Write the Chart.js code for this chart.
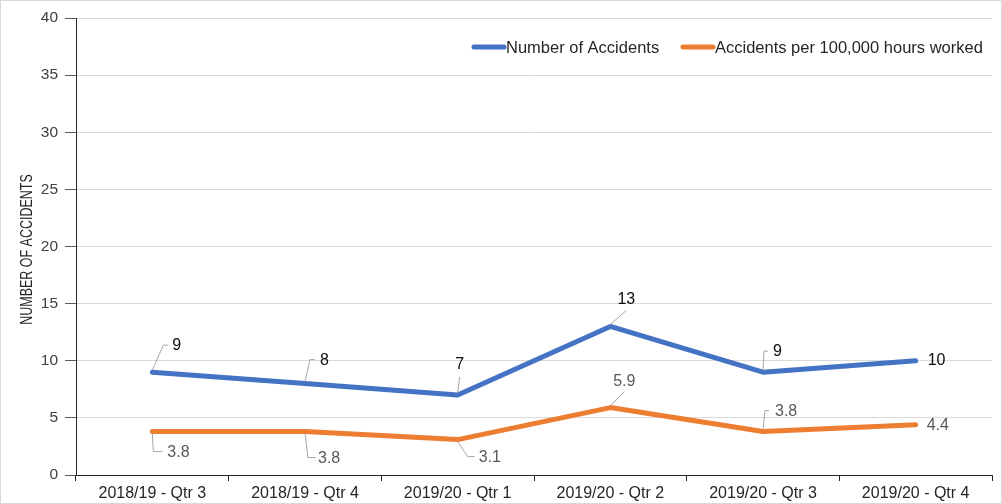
<!DOCTYPE html>
<html>
<head>
<meta charset="utf-8">
<script src="https://cdn.jsdelivr.net/npm/chart.js@4.4.0/dist/chart.umd.min.js"></script>
<style>
  html, body { margin: 0; padding: 0; background: #fff; }
  #wrap {
    position: absolute; left: 0; top: 0;
    width: 1002px; height: 504px;
    box-sizing: border-box;
    border: 1px solid #d9d9d9;
  }
  #wrap canvas { display: block; }
</style>
</head>
<body>
<div id="wrap"><canvas id="myChart" width="1000" height="502"></canvas></div>
<script>
// quarters along the bottom
const quarters = ["2018/19 - Qtr 3", "2018/19 - Qtr 4", "2019/20 - Qtr 1", "2019/20 - Qtr 2", "2019/20 - Qtr 3", "2019/20 - Qtr 4"]
const accidents = [9, 8, 7, 13, 9, 10]
const ratePer100k = [3.8, 3.8, 3.1, 5.9, 3.8, 4.4]
const seriesNames = ["Number of Accidents", "Accidents per 100,000 hours worked"]
const yTicks = [0, 5, 10, 15, 20, 25, 30, 35, 40]
const yTitle = "NUMBER OF ACCIDENTS"

const BLUE = "#4472C4"
const ORANGE = "#ED7D31"
const FONT = "'Liberation Sans', Arial, sans-serif"

// where each value label sits relative to its point, plus the little leader line
const labelSpots = [
    [
        { dx: 20, dy: -27, align: "left", leader: [[0, -2], [11, -27], [16, -27]] },
        { dx: 15, dy: -23, align: "left", leader: [[0, -2], [5, -24], [10, -24]] },
        { dx: 2, dy: -30, align: "center", leader: [[0, -2], [2, -18]] },
        { dx: 16, dy: -27, align: "center", leader: [[0, -2], [16, -16]] },
        { dx: 10, dy: -21, align: "left", leader: [[0, -2], [1, -21], [5, -21]] },
        { dx: 12, dy: 0, align: "left", leader: null },
    ],
    [
        { dx: 15, dy: 21, align: "left", leader: [[0, 2], [1, 20], [10, 20]] },
        { dx: 13, dy: 27, align: "left", leader: [[0, 2], [3, 26], [11, 26]] },
        { dx: 21, dy: 18, align: "left", leader: [[0, 2], [10, 17], [17, 17]] },
        { dx: 14, dy: -26, align: "center", leader: [[0, -2], [14, -16]] },
        { dx: 12, dy: -20, align: "left", leader: [[0, -2], [2, -21], [6, -21]] },
        { dx: 11, dy: 1, align: "left", leader: null },
    ],
]
const labelColors = ["#0d0d0d", "#595959"]

const valueLabels = {
    id: "valueLabels",
    afterDatasetsDraw(chart) {
        const ctx = chart.ctx
        ctx.save()
        ctx.font = "16px " + FONT
        ctx.textBaseline = "middle"
        chart.data.datasets.forEach((ds, di) => {
            const meta = chart.getDatasetMeta(di)
            meta.data.forEach((pt, i) => {
                const spot = labelSpots[di][i]
                if (spot.leader) {
                    ctx.strokeStyle = "#a6a6a6"
                    ctx.lineWidth = 1
                    ctx.beginPath()
                    spot.leader.forEach((p, k) => {
                        if (k == 0) ctx.moveTo(pt.x + p[0], pt.y + p[1])
                        else ctx.lineTo(pt.x + p[0], pt.y + p[1])
                    })
                    ctx.stroke()
                }
                ctx.fillStyle = labelColors[di]
                ctx.textAlign = spot.align
                ctx.fillText(String(ds.data[i]), pt.x + spot.dx, pt.y + spot.dy)
            })
        })
        ctx.restore()
    }
}

// legend drawn inside the plot, top right, and the narrow rotated y title
const extras = {
    id: "extras",
    afterDraw(chart) {
        const ctx = chart.ctx
        const items = [
            { x: 473, color: BLUE, text: seriesNames[0] },
            { x: 682, color: ORANGE, text: seriesNames[1] },
        ]
        const y = 46
        ctx.save()
        ctx.font = "16.5px " + FONT
        ctx.textBaseline = "middle"
        ctx.textAlign = "left"
        items.forEach(it => {
            ctx.strokeStyle = it.color
            ctx.lineWidth = 5
            ctx.lineCap = "round"
            ctx.beginPath()
            ctx.moveTo(it.x, y)
            ctx.lineTo(it.x + 30, y)
            ctx.stroke()
            ctx.fillStyle = "#262626"
            ctx.fillText(it.text, it.x + 32, y + 1)
        })
        ctx.restore()

        const area = chart.chartArea
        ctx.save()
        ctx.translate(27, (area.top + area.bottom) / 2 + 3)
        ctx.rotate(-Math.PI / 2)
        ctx.scale(0.78, 1)
        ctx.font = "16px " + FONT
        ctx.fillStyle = "#262626"
        ctx.textAlign = "center"
        ctx.textBaseline = "middle"
        ctx.fillText(yTitle, 0, 0)
        ctx.restore()
    }
}

const ctx = document.getElementById("myChart")

new Chart(ctx, {
    type: "line",
    data: {
        labels: quarters,
        datasets: [
            {
                label: seriesNames[0],
                data: accidents,
                borderColor: BLUE,
                backgroundColor: BLUE,
                borderWidth: 5,
                borderCapStyle: "round",
                borderJoinStyle: "round",
                pointRadius: 0,
                tension: 0,
            },
            {
                label: seriesNames[1],
                data: ratePer100k,
                borderColor: ORANGE,
                backgroundColor: ORANGE,
                borderWidth: 5,
                borderCapStyle: "round",
                borderJoinStyle: "round",
                pointRadius: 0,
                tension: 0,
            },
        ],
    },
    options: {
        responsive: false,
        animation: false,
        layout: { padding: { left: 0, right: 9, top: 17, bottom: 0 } },
        plugins: {
            legend: { display: false },
            tooltip: { enabled: false },
        },
        scales: {
            x: {
                offset: true,
                grid: {
                    offset: true,
                    drawOnChartArea: false,
                    drawTicks: true,
                    tickLength: 6,
                    tickColor: "#262626",
                },
                border: { color: "#262626", width: 1 },
                ticks: {
                    color: "#262626",
                    font: { family: FONT, size: 16 },
                    padding: 3,
                    maxRotation: 0,
                    autoSkip: false,
                },
                afterFit(scale) { scale.height = 28 },
            },
            y: {
                min: 0,
                max: 40,
                afterBuildTicks(scale) { scale.ticks = yTicks.map(v => ({ value: v })) },
                grid: {
                    color: "#d9d9d9",
                    tickColor: "#595959",
                    tickLength: 11,
                },
                border: { color: "#262626", width: 1 },
                ticks: {
                    color: "#404040",
                    font: { family: FONT, size: 15.5 },
                    padding: 7,
                },
                afterFit(scale) { scale.width = 75 },
            },
        },
    },
    plugins: [valueLabels, extras],
})
</script>
</body>
</html>
